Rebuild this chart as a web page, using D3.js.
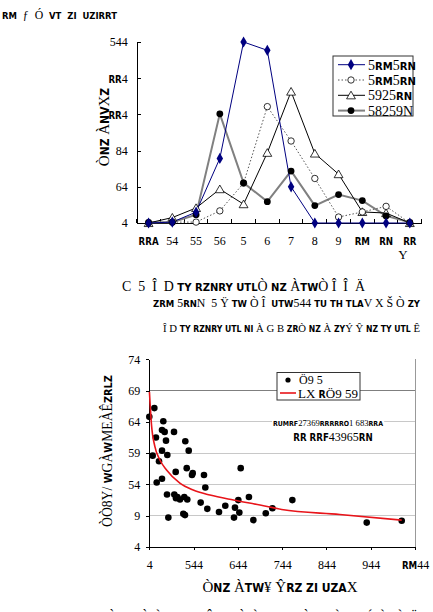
<!DOCTYPE html>
<html>
<head>
<meta charset="utf-8">
<script src="https://cdnjs.cloudflare.com/ajax/libs/d3/7.8.5/d3.min.js"></script>
<style>
body { margin: 0; background: #fff; }
svg { display: block; }
text { font-family: "Liberation Serif", "DejaVu Serif", serif; fill: #000; white-space: pre; }
.nb { font-family: "Liberation Sans Narrow", "DejaVu Sans Condensed", sans-serif; font-weight: bold; font-size: 0.8em; }
.axis path, .axis line { stroke: #000; shape-rendering: crispEdges; }
</style>
</head>
<body>
<svg id="fig" width="433" height="612"></svg>
<script>
// ---- data: chart 1 (monthly series) ----
var months = ["{RRA}", "54", "55", "56", "5", "6", "7", "8", "9", "{RM}", "{RN}", "{RR}"];
var series1 = [0, 0.5, 6, 35.7, 100, 95.4, 20, 0, 0, 0, 0, 0];
var series2 = [0, 0.5, 0.5, 6.7, 22, 64.3, 45.3, 24.6, 3.3, 6.1, 9.2, 0];
var series3 = [0, 3, 8.3, 18.7, 10.4, 38.8, 72.6, 38.4, 27, 6.1, 5.5, 0];
var series4 = [0.4, 0.4, 4.6, 60.3, 22.2, 11.8, 28.7, 9.6, 15.7, 12.4, 3.9, 0.4];
var seriesNames = ["5{RM}5{RN}", "5{RM}5{RN}", "5925{RN}", "58259N"];
var yTicks1 = [0, 20, 40, 60, 80, 100];
var yLabels1 = ["4", "64", "84", "{RR}4", "{RR}4", "544"];

// ---- data: chart 2 (scatter + trend) ----
var scatterX = [0, 11.4, 31.6, 15, 28.7, 34.7, 37.7, 55.8, 81.3, 7.6, 28.7, 40.7, 21.9, 89, 59.6, 16.7,
  28.7, 84.5, 98, 96.4, 123.5, 126.5, 206.4, 40, 56.5, 63.3, 60.3, 69.3, 79, 85.8, 116, 131, 157.4,
  171.6, 191.3, 193.5, 203.3, 201, 225, 43, 76.8, 80.6, 235, 323, 278, 263, 491, 570];
var scatterY = [20.8, 22.2, 20.1, 17.5, 18.7, 18.4, 17.0, 18.4, 16.9, 14.6, 15.4, 14.7, 13.7, 15.4, 12.0, 10.3,
  10.9, 12.6, 11.8, 11.5, 11.5, 9.5, 12.6, 8.4, 8.4, 8.0, 7.8, 7.6, 8.0, 7.6, 7.1, 6.1, 5.6,
  6.6, 4.7, 6.3, 5.5, 7.5, 8.0, 4.7, 5.3, 5.1, 4.3, 7.5, 6.2, 5.4, 3.9, 4.2];
var trendX = [0.3, 5, 12.8, 24, 39, 69, 99, 137, 190, 250, 299, 430, 570];
var trendY = [24.8, 19.5, 16.0, 13.9, 12.3, 10.2, 9.1, 8.3, 7.5, 6.7, 6.0, 5.2, 4.3];
var xTicks2 = [0, 100, 200, 300, 400, 500, 600];
var xLabels2 = ["4", "544", "644", "744", "844", "944", "{RM}44"];
var yTicks2 = [0, 5, 10, 15, 20, 25, 30];
var yLabels2 = ["4", "9", "54", "59", "64", "69", "74"];

var svg = d3.select("#fig");

// text with {..} parts drawn as narrow bold glyphs
function rich(t, str) {
  t.text(null);
  str.split(/(\{[^}]*\})/).forEach(function(p) {
    if (!p) return;
    if (p[0] == "{") t.append("tspan").attr("class", "nb").text(p.slice(1, -1));
    else t.append("tspan").text(p);
  });
  return t;
}

// shrink the font if too wide, otherwise open up the spacing to the target width
function fit(t, w) {
  var len = t.node().getComputedTextLength();
  if (len > w) {
    var fs = parseFloat(t.style("font-size"));
    t.style("font-size", (fs * w / len) + "px");
    len = t.node().getComputedTextLength();
  }
  if (len < w) t.attr("textLength", w).attr("lengthAdjust", "spacing");
  return t;
}

// ---- page title ----
fit(rich(svg.append("text").attr("x", 2).attr("y", 19).style("font-size", "15px"),
  "{RM}  \u0192  \u00d3  {VT}  {ZI}  {UZIRRT}"), 115);

// ================= chart 1 =================
var x1 = d3.scaleBand().domain(d3.range(months.length)).range([136.7, 421.7]);
var y1 = d3.scaleLinear().domain([0, 100]).range([223, 42]);
var cx = function(i) { return x1(i) + x1.bandwidth() / 2; };

var yAx1 = svg.append("g").attr("class", "axis")
  .attr("transform", "translate(" + x1.range()[0] + ",0)")
  .call(d3.axisLeft(y1).tickValues(yTicks1).tickSizeInner(-4).tickSizeOuter(0).tickPadding(9));
yAx1.selectAll(".tick text").style("font-size", "12px").style("font-family", null)
  .each(function(d, i) { rich(d3.select(this), yLabels1[i]); });

var xAx1 = svg.append("g").attr("class", "axis")
  .attr("transform", "translate(0," + y1(0) + ")")
  .call(d3.axisBottom(x1).tickSize(0).tickPadding(13));
xAx1.selectAll(".tick text").style("font-size", "12px").style("font-family", null)
  .each(function(d, i) { rich(d3.select(this), months[i]); });
xAx1.select(".domain").remove();
xAx1.append("line").attr("x1", x1.range()[0]).attr("x2", x1.range()[1]).attr("stroke", "#000");
d3.range(months.length + 1).forEach(function(i) {
  var xx = i < months.length ? x1(i) : x1.range()[1];
  xAx1.append("line").attr("x1", xx).attr("x2", xx).attr("y1", -4).attr("y2", 0).attr("stroke", "#000");
});
rich(svg.append("text").attr("x", 403).attr("y", 259).attr("text-anchor", "middle").style("font-size", "13px"), "Y");

rich(svg.append("text").attr("transform", "translate(109,127) rotate(-90)")
  .attr("text-anchor", "middle").style("font-size", "15px"), "\u00d2{NZ} \u00c0{NV}X{Z}");

var line1 = d3.line().x(function(d, i) { return cx(i); }).y(function(d) { return y1(d); });

svg.append("path").attr("d", line1(series4)).attr("fill", "none").attr("stroke", "#808080").attr("stroke-width", 2);
svg.append("path").attr("d", line1(series3)).attr("fill", "none").attr("stroke", "#000").attr("stroke-width", 1);
svg.append("path").attr("d", line1(series2)).attr("fill", "none").attr("stroke", "#555").attr("stroke-width", 1).attr("stroke-dasharray", "1.5,2");
svg.append("path").attr("d", line1(series1)).attr("fill", "none").attr("stroke", "#000080").attr("stroke-width", 1);

var symDiamond = d3.symbol().type(d3.symbolDiamond).size(36);
var symTri = d3.symbol().type(d3.symbolTriangle).size(34);

function drawMarkers(data, kind) {
  data.forEach(function(v, i) {
    var px = cx(i), py = y1(v);
    if (kind == "diamond") svg.append("path").attr("d", symDiamond()).attr("transform", "translate(" + px + "," + py + ")").attr("fill", "#000080");
    if (kind == "open") svg.append("circle").attr("cx", px).attr("cy", py).attr("r", 3.2).attr("fill", "#fff").attr("stroke", "#000").attr("stroke-width", 0.8);
    if (kind == "tri") svg.append("path").attr("d", symTri()).attr("transform", "translate(" + px + "," + (py + 1) + ")").attr("fill", "#fff").attr("stroke", "#000").attr("stroke-width", 0.8);
    if (kind == "dot") svg.append("circle").attr("cx", px).attr("cy", py).attr("r", 3.4).attr("fill", "#000");
  });
}
drawMarkers(series3, "tri");
drawMarkers(series2, "open");
drawMarkers(series4, "dot");
drawMarkers(series1, "diamond");

// legend 1
var lg1 = svg.append("g").attr("transform", "translate(333,56)");
lg1.append("rect").attr("width", 80).attr("height", 60).attr("fill", "#fff").attr("stroke", "#333");
var legStyles = [
  { c: "#000080", w: 1, dash: null, m: "diamond" },
  { c: "#555", w: 1, dash: "1.5,2", m: "open" },
  { c: "#000", w: 1, dash: null, m: "tri" },
  { c: "#808080", w: 2, dash: null, m: "dot" }
];
seriesNames.forEach(function(name, i) {
  var ly = 8.7 + i * 15.3;
  var st = legStyles[i];
  lg1.append("line").attr("x1", 5).attr("x2", 32).attr("y1", ly).attr("y2", ly)
    .attr("stroke", st.c).attr("stroke-width", st.w).attr("stroke-dasharray", st.dash);
  if (st.m == "diamond") lg1.append("path").attr("d", symDiamond()).attr("transform", "translate(18," + ly + ")").attr("fill", "#000080");
  if (st.m == "open") lg1.append("circle").attr("cx", 18).attr("cy", ly).attr("r", 3.2).attr("fill", "#fff").attr("stroke", "#000").attr("stroke-width", 0.8);
  if (st.m == "tri") lg1.append("path").attr("d", symTri()).attr("transform", "translate(18," + (ly + 1) + ")").attr("fill", "#fff").attr("stroke", "#000").attr("stroke-width", 0.8);
  if (st.m == "dot") lg1.append("circle").attr("cx", 18).attr("cy", ly).attr("r", 3.4).attr("fill", "#000");
  rich(lg1.append("text").attr("x", 35).attr("y", ly + 5).style("font-size", "14px"), name);
});

// captions under chart 1
fit(rich(svg.append("text").attr("x", 122).attr("y", 291).style("font-size", "17px"),
  "C  5  \u00ce  D {TY} {RZNRY} {UTL}\u00d2 {NZ} \u00c0{TW}\u00d2 \u00ce  \u00ce  \u00c4"), 243);
fit(rich(svg.append("text").attr("x", 153).attr("y", 307).style("font-size", "14px"),
  "{ZRM} 5{RN}N  5 \u0178 {TW} \u00d2 \u00ce  {UTW}544 {TU} {TH} {TLA}V X \u0160 \u00d2 {ZY}"), 267);
fit(rich(svg.append("text").attr("x", 163).attr("y", 332).style("font-size", "15px"),
  "\u00ce D {TY} {RZNRY} {UTL} {NI} \u00c0 G B {ZR}\u00d2 {NZ} \u00c0 {ZY}\u00dd \u0176 {NZ} {TY} {UTL} \u00ca"), 257);

// ================= chart 2 =================
var x2 = d3.scaleLinear().domain([0, 600]).range([149.3, 415]);
var y2 = d3.scaleLinear().domain([0, 30]).range([547, 359.3]);

yTicks2.forEach(function(v) {
  if (v == 0 || v == 30) return;
  svg.append("line").attr("x1", x2(0)).attr("x2", x2(600)).attr("y1", y2(v)).attr("y2", y2(v))
    .attr("stroke", v == 25 ? "#7f7f7f" : "#c8c8c8").attr("stroke-width", v == 25 ? 1.2 : 1)
    .style("shape-rendering", "crispEdges");
});
svg.append("line").attr("x1", x2(600)).attr("x2", x2(600)).attr("y1", y2(30)).attr("y2", y2(0))
  .attr("stroke", "#999").style("shape-rendering", "crispEdges");

var yAx2 = svg.append("g").attr("class", "axis")
  .attr("transform", "translate(" + x2(0) + ",0)")
  .call(d3.axisLeft(y2).tickValues(yTicks2).tickSizeInner(3).tickSizeOuter(0).tickPadding(6));
yAx2.selectAll(".tick text").style("font-size", "12px").style("font-family", null)
  .each(function(d, i) { rich(d3.select(this), yLabels2[i]); });

var xAx2 = svg.append("g").attr("class", "axis")
  .attr("transform", "translate(0," + y2(0) + ")")
  .call(d3.axisBottom(x2).tickValues(xTicks2).tickSizeInner(3).tickSizeOuter(0).tickPadding(10));
xAx2.selectAll(".tick text").style("font-size", "12px").style("font-family", null)
  .each(function(d, i) { rich(d3.select(this), xLabels2[i]); });

rich(svg.append("text").attr("x", 280).attr("y", 592).attr("text-anchor", "middle").style("font-size", "15px"),
  "\u00d2{NZ} \u00c0{TW}\u00a5 \u0176{RZ} {ZI} {UZA}X");
fit(rich(svg.append("text").attr("transform", "translate(112,451) rotate(-90)")
  .attr("text-anchor", "middle").style("font-size", "15px"),
  "\u00d2\u00d28Y/ {W}G\u00c0{W}ME\u00c0\u00ca{ZRLZ}"), 152);

svg.append("g").selectAll("circle")
  .data(d3.range(scatterX.length))
  .enter().append("circle")
  .attr("cx", function(i) { return x2(scatterX[i]); })
  .attr("cy", function(i) { return y2(scatterY[i]); })
  .attr("r", 3.3).attr("fill", "#000");

var trendLine = d3.line()
  .x(function(i) { return x2(trendX[i]); })
  .y(function(i) { return y2(trendY[i]); })
  .curve(d3.curveMonotoneX);
svg.append("path").attr("d", trendLine(d3.range(trendX.length)))
  .attr("fill", "none").attr("stroke", "#e8141a").attr("stroke-width", 1.6);

// legend 2
var lg2 = svg.append("g").attr("transform", "translate(277,372.5)");
lg2.append("rect").attr("width", 83).attr("height", 27.5).attr("fill", "#fff").attr("stroke", "#333");
lg2.append("circle").attr("cx", 11).attr("cy", 7.5).attr("r", 2.6).attr("fill", "#000");
rich(lg2.append("text").attr("x", 22).attr("y", 11.5).style("font-size", "12px"), "\u00d69 5");
lg2.append("line").attr("x1", 3).attr("x2", 19).attr("y1", 20.5).attr("y2", 20.5).attr("stroke", "#e8141a").attr("stroke-width", 1.6);
rich(lg2.append("text").attr("x", 21).attr("y", 25.5).style("font-size", "13px"), "LX {R}\u00d69 59");

// equation label, white box behind the first line
var eqBg = svg.append("rect").attr("fill", "#fff");
var eq1 = fit(rich(svg.append("text").attr("x", 273).attr("y", 426).style("font-size", "12px"),
  "{RUMRF}27369{RRRRRO}1 683{RRA}"), 110);
var bb = eq1.node().getBBox();
eqBg.attr("x", bb.x - 1).attr("y", bb.y).attr("width", bb.width + 2).attr("height", bb.height);
rich(svg.append("text").attr("x", 333).attr("y", 441).attr("text-anchor", "middle").style("font-size", "12px"),
  "{RR} {RRF}43965{RN}");

// caption cut off at the bottom edge
fit(rich(svg.append("text").attr("x", 107).attr("y", 622).style("font-size", "17px"),
  "\u00d2 {NZ} \u00d2 \u00c0 {TW}{NM} \u00ce {TW} \u00d2 \u00c0 {TY} {NZ} \u00d2 {TY} \u00c0 {TW}\u00dd \u00c0{Z}\u00c0 \u00c4 {TY}"), 330);
</script>
</body>
</html>
